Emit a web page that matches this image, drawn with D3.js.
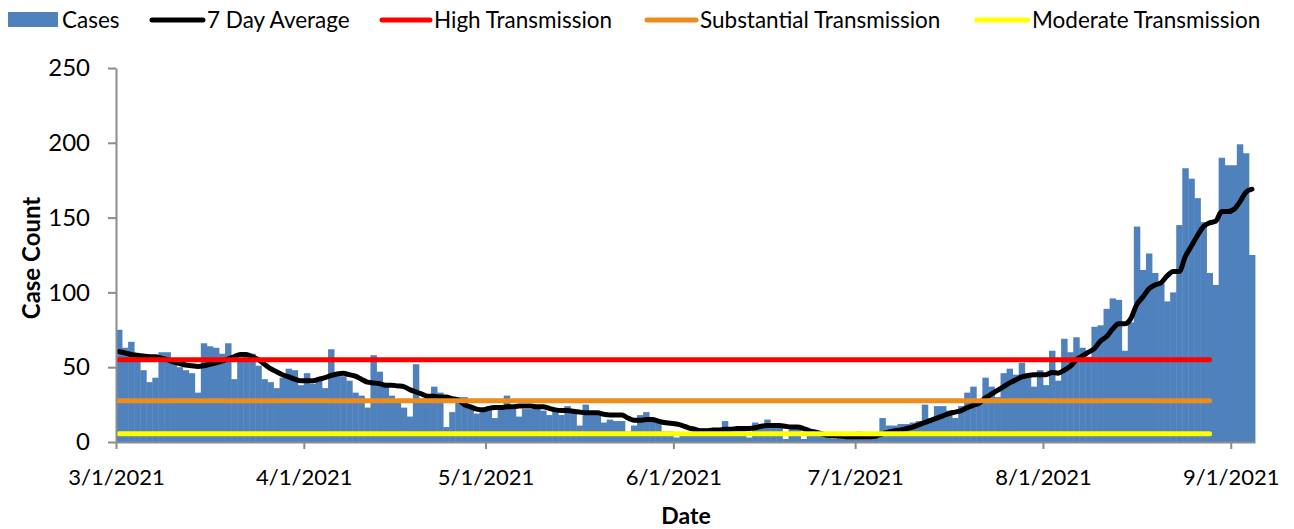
<!DOCTYPE html>
<html>
<head>
<meta charset="utf-8">
<script src="https://cdn.jsdelivr.net/npm/d3@7"></script>
<style>
  body { margin: 0; background: #fff; }
  text { font-family: Lato, "Open Sans", sans-serif; fill: #000; }
</style>
</head>
<body>
<svg id="chart" width="1294" height="529"></svg>
<script>
// daily cases from 3/1/2021, one value per day
var startDate = new Date(2021, 2, 1);

var cases = [
  // March
  75,63,67,57,48,40,43,60,60,56,50,48,46,33,66,64,63,59,66,42,54,59,59,51,42,40,36,43,49,48,38,
  // April
  46,39,41,36,62,44,44,41,33,31,23,58,47,37,31,28,23,17,52,29,30,37,33,10,20,30,30,23,19,21,
  // May
  22,16,23,31,22,17,22,22,23,21,18,20,18,24,20,11,25,18,18,13,15,14,14,7,11,18,20,16,14,7,7,
  // June
  3,6,6,8,9,9,8,9,14,9,9,9,3,13,10,15,11,11,2,9,10,2,6,5,4,5,2,4,3,3,
  // July
  7,6,4,3,16,11,11,12,12,13,14,25,16,24,24,21,16,24,33,37,28,43,37,30,46,49,45,53,44,37,48,
  // August
  38,61,41,69,60,70,63,57,77,78,89,96,95,61,80,144,115,126,113,106,94,100,145,183,176,163,147,113,105,190,185,
  // September
  185,199,193,125
];

var avg7 = [
  60.5,59.5,58.5,58,57.5,57,57,56,55,53.5,52.5,51.5,51,50.5,51,52,53,54,55.5,57,58.5,58.5,57,55,52,49,47,45,43.5,42,41,
  41,41,42,43,44.5,45.5,46,45,44,42,40,39.5,39,38,38,37.5,37,35,33.5,32,30.5,30.5,30,30,29,28,25,23.5,22,21.5,
  22.5,23,23,23.5,23.5,24,24,24,23.5,23.5,22.5,21.5,21,21,20.5,20,19.5,19.5,19.5,18.5,18,18,18,16,14.5,14.5,15,15,14,13,12.5,
  12,11,9.5,8.5,7.5,7.5,8,8,8.5,8.5,9,9,9,9.5,10.5,11,11,11,10.5,10,10,9,7.5,6.5,5.5,4.5,4,4,3.5,3.5,
  3.5,3.5,3.5,4,5.5,6.5,7.5,8,9,10,11.5,13,14.5,16,17.5,19,20,21,23,24.5,26,29.5,32,34.5,37,39.5,41.5,43.5,44.5,45,45,
  45,46.5,46,48,50.5,55,57.5,60,62.5,67.5,70.5,75.5,79,79,82.5,92,97,102.5,105,106.5,111,114,114,124,131,138,144,146.5,147.5,154,154,
  155.5,160.5,167,169
];

// transmission levels, drawn from 3/1 to 8/28
var levelNames = ["High Transmission", "Substantial Transmission", "Moderate Transmission"];
var levelValues = [55, 27.5, 5.5];
var levelColors = ["#ff0000", "#ee8c1c", "#ffff00"];
var levelEnd = new Date(2021, 7, 28);

var yTicks = [0, 50, 100, 150, 200, 250];
var xTickLabels = ["3/1/2021", "4/1/2021", "5/1/2021", "6/1/2021", "7/1/2021", "8/1/2021", "9/1/2021"];

var dates = cases.map(function(d, i) { return d3.timeDay.offset(startDate, i); });
var parseDate = d3.timeParse("%m/%d/%Y");

var svg = d3.select("#chart");
var margin = {left: 116, right: 1255, top: 68, bottom: 442};

var x = d3.scaleTime()
    .domain([startDate, d3.timeDay.offset(startDate, cases.length)])
    .range([margin.left, margin.right]);
var y = d3.scaleLinear().domain([0, 250]).range([margin.bottom, margin.top]);

var dayW = x(dates[1]) - x(dates[0]);

// bars
svg.append("g").selectAll("rect")
    .data(cases)
    .enter()
    .append("rect")
    .attr("x", function(d, i) { return x(dates[i]); })
    .attr("y", function(d) { return y(d); })
    .attr("width", dayW + 0.4)
    .attr("height", function(d) { return y(0) - y(d); })
    .attr("fill", "#4f81bd");

var line = d3.line()
    .x(function(d) { return x(d[0]) + dayW / 2; })
    .y(function(d) { return y(d[1]); })
    .curve(d3.curveMonotoneX);

// 7 day average
svg.append("path")
    .datum(avg7.map(function(d, i) { return [dates[i], d]; }))
    .attr("d", line)
    .attr("fill", "none")
    .attr("stroke", "#000")
    .attr("stroke-width", 5)
    .attr("stroke-linejoin", "round")
    .attr("stroke-linecap", "round");

// threshold lines
levelValues.forEach(function(v, k) {
  svg.append("line")
      .attr("x1", x(startDate) + dayW / 2)
      .attr("x2", x(levelEnd) + dayW / 2)
      .attr("y1", y(v))
      .attr("y2", y(v))
      .attr("stroke", levelColors[k])
      .attr("stroke-width", 5)
      .attr("stroke-linecap", "round");
});

// axes
var yAxis = svg.append("g")
    .attr("transform", "translate(" + margin.left + ",0)")
    .call(d3.axisLeft(y).tickValues(yTicks).tickSize(8).tickPadding(18).tickSizeOuter(0));
yAxis.select(".domain").attr("stroke", "#8c8c8c").attr("stroke-width", 2);
yAxis.selectAll(".tick line").attr("stroke", "#8c8c8c").attr("stroke-width", 2);
yAxis.selectAll("text").style("font-size", "24px");

var xAxis = svg.append("g")
    .attr("transform", "translate(0," + margin.bottom + ")")
    .call(d3.axisBottom(x)
      .tickValues(xTickLabels.map(function(s) { return parseDate(s); }))
      .tickFormat(function(d, i) { return xTickLabels[i]; })
      .tickSize(7).tickPadding(20).tickSizeOuter(0));
xAxis.select(".domain").attr("stroke", "#8c8c8c").attr("stroke-width", 2);
xAxis.selectAll(".tick line").attr("stroke", "#8c8c8c").attr("stroke-width", 2);
xAxis.selectAll("text").style("font-size", "22px");

svg.append("text")
    .attr("transform", "translate(40,258) rotate(-90)")
    .attr("text-anchor", "middle")
    .style("font-size", "24px")
    .style("font-weight", "bold")
    .text("Case Count");

svg.append("text")
    .attr("x", 686)
    .attr("y", 524)
    .attr("text-anchor", "middle")
    .style("font-size", "23px")
    .style("font-weight", "bold")
    .text("Date");

// legend
var legend = svg.append("g");
legend.append("rect")
    .attr("x", 8).attr("y", 12).attr("width", 50).attr("height", 15)
    .attr("fill", "#4f81bd");
legend.append("text").attr("x", 62).attr("y", 28).style("font-size", "22.5px").text("Cases");

var legendLines = [
  {name: "7 Day Average", color: "#000", x1: 152, x2: 203, tx: 207},
  {name: levelNames[0], color: levelColors[0], x1: 382, x2: 430, tx: 434},
  {name: levelNames[1], color: levelColors[1], x1: 647, x2: 696, tx: 700},
  {name: levelNames[2], color: levelColors[2], x1: 977, x2: 1028, tx: 1032}
];
legendLines.forEach(function(d) {
  legend.append("line")
      .attr("x1", d.x1).attr("x2", d.x2).attr("y1", 20).attr("y2", 20)
      .attr("stroke", d.color).attr("stroke-width", 5).attr("stroke-linecap", "round");
  legend.append("text").attr("x", d.tx).attr("y", 28).style("font-size", "22.5px").text(d.name);
});
</script>
</body>
</html>
